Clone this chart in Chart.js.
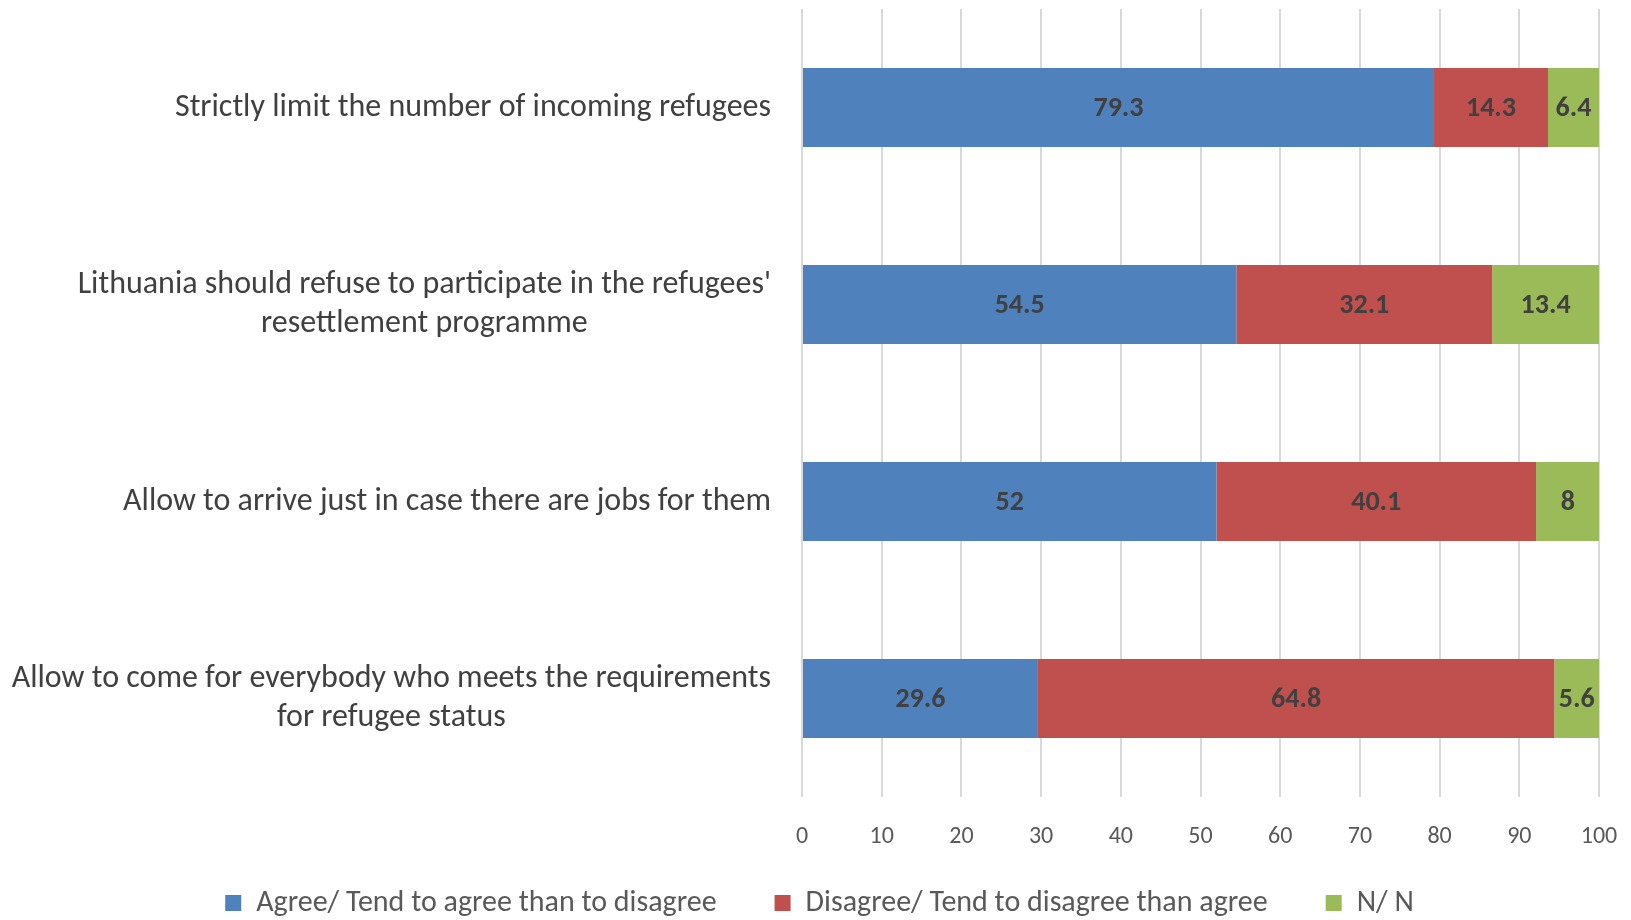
<!DOCTYPE html>
<html>
<head>
<meta charset="utf-8">
<script src="https://cdn.jsdelivr.net/npm/chart.js@4"></script>
<style>
  body { margin: 0; background: #fff; }
  #wrap { width: 1631px; height: 920px; }
</style>
</head>
<body>
<div id="wrap"><canvas id="chart" width="1631" height="920"></canvas></div>
<script>
const categories = [
  ["Strictly limit the number of incoming refugees"],
  ["Lithuania should refuse to participate in the refugees'", "resettlement programme"],
  ["Allow to arrive just in case there are jobs for them"],
  ["Allow to come for everybody who meets the requirements", "for refugee status"]
];
const agree = [79.3, 54.5, 52, 29.6];
const disagree = [14.3, 32.1, 40.1, 64.8];
const dontKnow = [6.4, 13.4, 8, 5.6];
const seriesNames = [
  "Agree/ Tend to agree than to disagree",
  "Disagree/ Tend to disagree than agree",
  "N/ N"
];

const FONT = "Carlito, 'Open Sans', 'Liberation Sans', sans-serif";

// draw the value in the middle of each bar segment
const barLabels = {
  id: "barLabels",
  afterDatasetsDraw(chart) {
    const ctx = chart.ctx;
    ctx.save();
    ctx.font = "bold 28px " + FONT;
    ctx.fillStyle = "#404040";
    ctx.textAlign = "center";
    ctx.textBaseline = "middle";
    chart.data.datasets.forEach((ds, i) => {
      chart.getDatasetMeta(i).data.forEach((bar, j) => {
        const p = bar.getProps(["x", "y", "base"], true);
        ctx.fillText(String(ds.data[j]), (p.x + p.base) / 2, p.y + 1);
      });
    });
    ctx.restore();
  }
};

// category labels: block right aligned next to the axis, lines centred inside it (like Excel)
const categoryLabels = {
  id: "categoryLabels",
  afterDraw(chart) {
    const ctx = chart.ctx;
    const yScale = chart.scales.y;
    const right = chart.chartArea.left - 31;
    const lineH = 39;
    ctx.save();
    ctx.font = "32px " + FONT;
    ctx.fillStyle = "#404040";
    ctx.textAlign = "center";
    ctx.textBaseline = "middle";
    chart.data.labels.forEach((lines, i) => {
      const w = Math.max(...lines.map(l => ctx.measureText(l).width));
      const cx = right - w / 2;
      const cy = yScale.getPixelForTick(i);
      lines.forEach((l, k) => {
        ctx.fillText(l, cx, cy + (k - (lines.length - 1) / 2) * lineH);
      });
    });
    ctx.restore();
  }
};

// move the legend up a little, its own padding would push it off the canvas
const legendShift = {
  id: "legendShift",
  afterLayout(chart) {
    chart.legend.top -= 22;
    chart.legend.height += 22;
  }
};

new Chart(document.getElementById("chart"), {
  type: "bar",
  data: {
    labels: categories,
    datasets: [
      { label: seriesNames[0], data: agree, backgroundColor: "#4F81BD" },
      { label: seriesNames[1], data: disagree, backgroundColor: "#C0504D" },
      { label: seriesNames[2], data: dontKnow, backgroundColor: "#9BBB59" }
    ]
  },
  options: {
    indexAxis: "y",
    responsive: false,
    animation: false,
    categoryPercentage: 0.4,
    barPercentage: 1,
    layout: { padding: { top: 9, right: 32, left: 40, bottom: 4 } },
    plugins: {
      tooltip: { enabled: false },
      legend: {
        position: "bottom",
        maxHeight: 64,
        labels: {
          font: { family: FONT, size: 30 },
          color: "#595959",
          boxWidth: 16,
          boxHeight: 16,
          padding: 58
        }
      }
    },
    scales: {
      x: {
        stacked: true,
        min: 0,
        max: 100,
        ticks: {
          stepSize: 10,
          font: { family: FONT, size: 24 },
          color: "#595959",
          padding: 26
        },
        grid: { color: "#d9d9d9", lineWidth: 2, drawTicks: false },
        border: { display: false },
        afterFit(scale) {
          scale.height = 55;
          scale.paddingLeft = 0;
          scale.paddingRight = 0;
        }
      },
      y: {
        stacked: true,
        ticks: { display: false },
        grid: { display: false, drawTicks: false },
        border: { display: false },
        afterFit(scale) {
          scale.width = 762;
          scale.paddingTop = 0;
          scale.paddingBottom = 0;
        }
      }
    }
  },
  plugins: [barLabels, categoryLabels, legendShift]
});
</script>
</body>
</html>
